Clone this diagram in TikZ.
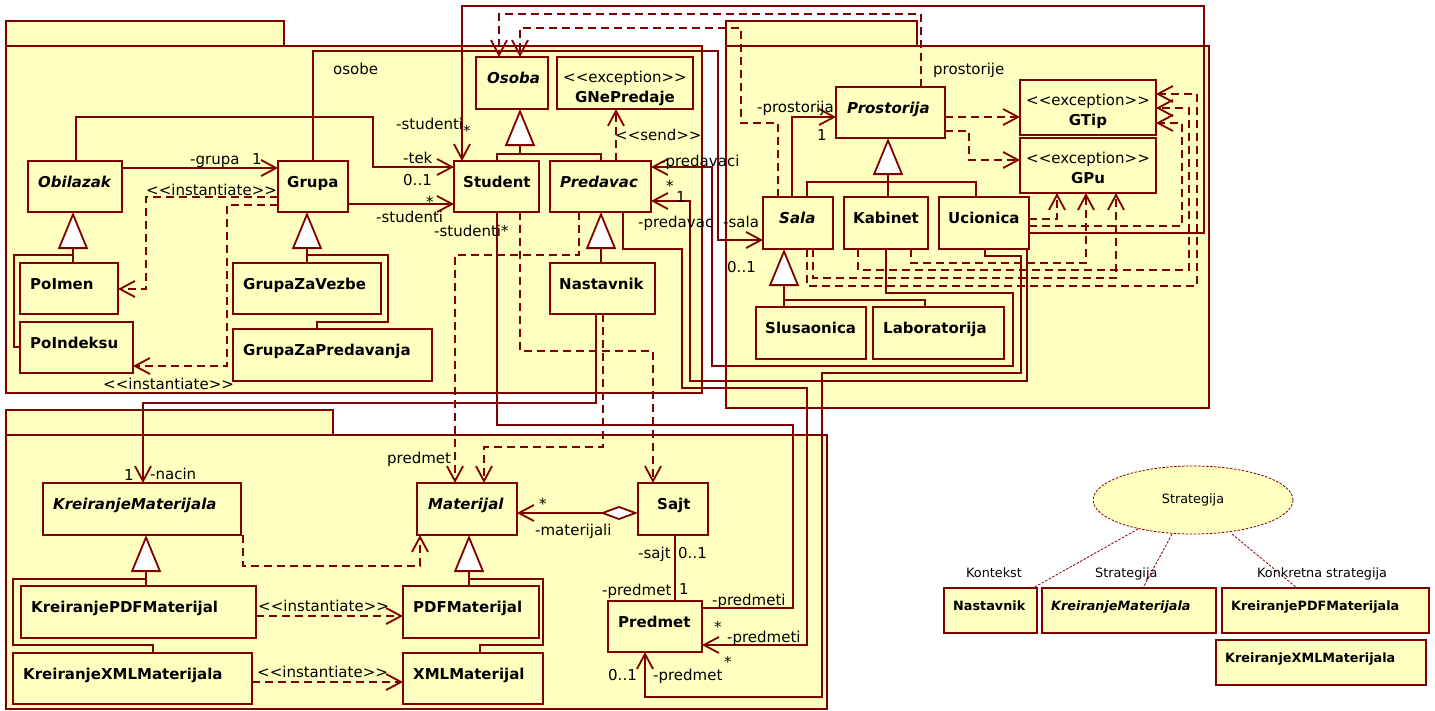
\documentclass[tikz,border=0pt]{standalone}
\usepackage{fontspec}
\setmainfont{DejaVu Sans}[Ligatures=TeXOff]
\usetikzlibrary{arrows.meta,shapes.geometric,calc}
\definecolor{dred}{RGB}{128,0,0}
\definecolor{uyel}{RGB}{255,255,192}
\tikzset{
  pkg/.style={draw=dred, fill=uyel, line width=1.6pt},
  clsbox/.style={draw=dred, fill=uyel, line width=1.8pt, inner sep=0pt, outer sep=0pt},
  sbox/.style={draw=dred, fill=uyel, line width=1.2pt, inner sep=0pt, outer sep=0pt},
  lab/.style={anchor=base west, inner sep=0pt},
  slab/.style={anchor=base west, inner sep=0pt, font=\fontsize{12.8}{15}\selectfont},
  assoc/.style={draw=dred, line width=1.8pt},
  nav/.style={assoc, -{Straight Barb[length=15pt,width=16pt]}},
  gen/.style={assoc, -{Triangle[length=37pt,width=30pt,fill=white]}},
  dep/.style={assoc, dash pattern=on 8pt off 5pt, -{Straight Barb[length=15pt,width=16pt]}},
  agg/.style={assoc, {Diamond[length=38pt,width=14pt,fill=white]}-{Straight Barb[length=15pt,width=16pt]}},
  sline/.style={draw=dred, line width=0.8pt, dash pattern=on 2.5pt off 1.5pt},
}
\newcommand\umlcls[7]{%
  \pgfmathsetmacro\umlw{#4-#2}\pgfmathsetmacro\umlh{#5-#3}%
  \node[clsbox, minimum width=\umlw pt, minimum height=\umlh pt] (#1) at ({(#2+#4)/2},{(#3+#5)/2}) {};
  \node[lab] (#1-t) at ({#2+#6},{#3+26}) {#7};
}
\newcommand\umlexc[6]{%
  \pgfmathsetmacro\umlw{#4-#2}\pgfmathsetmacro\umlh{#5-#3}%
  \node[clsbox, minimum width=\umlw pt, minimum height=\umlh pt] (#1) at ({(#2+#4)/2},{(#3+#5)/2}) {};
  \node[anchor=base, inner sep=0pt] (#1-s) at ({(#2+#4)/2},{#3+25}) {<<exception>>};
  \node[anchor=base, inner sep=0pt] (#1-t) at ({(#2+#4)/2},{#3+45}) {\textbf{#6}};
}
\newcommand\umlsbox[6]{%
  \pgfmathsetmacro\umlw{#4-#2}\pgfmathsetmacro\umlh{#5-#3}%
  \node[sbox, minimum width=\umlw pt, minimum height=\umlh pt] (#1) at ({(#2+#4)/2},{(#3+#5)/2}) {};
  \node[slab] (#1-t) at ({#2+9},{#3+22}) {#6};
}
\begin{document}
\begin{tikzpicture}[x=1pt,y=-1pt,font=\fontsize{15}{18}\selectfont]
\useasboundingbox (0,0) rectangle (1435,710);
% packages
\draw[pkg] (6,21) rectangle (284,46);
\draw[pkg] (6,46) rectangle (702,393);
\draw[pkg] (726,21) rectangle (917,46);
\draw[pkg] (726,46) rectangle (1209,408);
\draw[pkg] (6,410) rectangle (333,435);
\draw[pkg] (6,435) rectangle (827,709);
\node[lab] (posobe) at (333,74) {osobe};
\node[lab] (pprost) at (933,74) {prostorije};

% classes - osobe
\umlcls{Osoba}{476}{57}{548}{109}{11}{\textbf{\textit{Osoba}}}
\umlexc{GNePredaje}{557}{57}{693}{109}{GNePredaje}
\umlcls{Obilazak}{28}{161}{122}{212}{10}{\textbf{\textit{Obilazak}}}
\umlcls{Grupa}{278}{161}{348}{212}{9}{\textbf{Grupa}}
\umlcls{Student}{454}{161}{539}{212}{9}{\textbf{Student}}
\umlcls{Predavac}{550}{161}{651}{212}{10}{\textbf{\textit{Predavac}}}
\umlcls{PoImen}{20}{263}{118}{314}{10}{\textbf{PoImen}}
\umlcls{PoIndeksu}{20}{322}{133}{373}{10}{\textbf{PoIndeksu}}
\umlcls{GrupaZaVezbe}{233}{263}{381}{314}{10}{\textbf{GrupaZaVezbe}}
\umlcls{GrupaZaPredavanja}{233}{329}{432}{381}{10}{\textbf{GrupaZaPredavanja}}
\umlcls{Nastavnik}{550}{263}{655}{314}{9}{\textbf{Nastavnik}}
% classes - prostorije
\umlcls{Prostorija}{836}{87}{945}{138}{11}{\textbf{\textit{Prostorija}}}
\umlexc{GTip}{1020}{80}{1156}{135}{GTip}
\umlexc{GPu}{1020}{138}{1156}{193}{GPu}
\umlcls{Sala}{763}{197}{833}{249}{16}{\textbf{\textit{Sala}}}
\umlcls{Kabinet}{844}{197}{928}{249}{9}{\textbf{Kabinet}}
\umlcls{Ucionica}{939}{197}{1029}{249}{9}{\textbf{Ucionica}}
\umlcls{Slusaonica}{756}{307}{866}{359}{9}{\textbf{Slusaonica}}
\umlcls{Laboratorija}{873}{307}{1004}{359}{10}{\textbf{Laboratorija}}
% classes - materials
\umlcls{KM}{43}{483}{241}{535}{10}{\textbf{\textit{KreiranjeMaterijala}}}
\umlcls{Materijal}{417}{483}{517}{535}{11}{\textbf{\textit{Materijal}}}
\umlcls{Sajt}{638}{483}{708}{535}{19}{\textbf{Sajt}}
\umlcls{KPDF}{21}{586}{256}{638}{10}{\textbf{KreiranjePDFMaterijal}}
\umlcls{KXML}{13}{653}{252}{704}{10}{\textbf{KreiranjeXMLMaterijala}}
\umlcls{PDFM}{403}{586}{539}{638}{10}{\textbf{PDFMaterijal}}
\umlcls{XMLM}{403}{653}{543}{704}{10}{\textbf{XMLMaterijal}}
\umlcls{Predmet}{608}{601}{702}{652}{10}{\textbf{Predmet}}

% generalizations
\draw[gen] ([xshift=53pt]PoImen.north west) -- ([xshift=45pt]Obilazak.south west);
\draw[assoc] ([yshift=-25pt]PoIndeksu.north west) -| (14,255) -- (73,255);
\draw[gen] ([xshift=74pt]GrupaZaVezbe.north west) -- ([xshift=29pt]Grupa.south west);
\draw[assoc] ([xshift=84pt]GrupaZaPredavanja.north west) |- (388,322) |- (307,255);
\draw[assoc] ([xshift=43pt]Student.north west) |- (601,154) -- ([xshift=51pt]Predavac.north west);
\draw[gen] (520,154) -- ([xshift=44pt]Osoba.south west);
\draw[gen] ([xshift=51pt]Nastavnik.north west) -- ([xshift=51pt]Predavac.south west);
\draw[assoc] ([xshift=44pt]Sala.north west) |- (976,182) -- ([xshift=37pt]Ucionica.north west);
\draw[gen] ([xshift=44pt]Kabinet.north west) -- ([xshift=52pt]Prostorija.south west);
\draw[gen] ([xshift=28pt]Slusaonica.north west) -- ([xshift=21pt]Sala.south west);
\draw[assoc] ([xshift=52pt]Laboratorija.north west) |- (784,300);
\draw[gen] ([xshift=125pt]KPDF.north west) -- ([xshift=103pt]KM.south west);
\draw[assoc] ([xshift=140pt]KXML.north west) |- (13,645) |- (146,579);
\draw[gen] ([xshift=66pt]PDFM.north west) -- ([xshift=52pt]Materijal.south west);
\draw[assoc] ([xshift=77pt]XMLM.north west) |- (543,645) |- (469,579);

% associations
\draw[nav] ([yshift=-7pt]Obilazak.north east) -- ([yshift=-7pt]Grupa.north west);
\draw[nav] ([xshift=48pt]Obilazak.north west) |- (373,117) |- ([yshift=-6pt]Student.north west);
\draw[nav] ([yshift=-43pt]Grupa.north east) -- ([yshift=-43pt]Student.north west);
\draw[nav] ([yshift=16pt]Ucionica.south east) -| (1204,6) -| ([xshift=8pt]Student.north west);
\draw[nav] ([xshift=35pt]Grupa.north west) |- (718,51) |- ([yshift=9pt]Sala.south west);
\draw[nav] ([xshift=29pt]Sala.north west) |- ([yshift=-30pt]Prostorija.north west);
\draw[nav] ([xshift=42pt]Kabinet.south west) |- (1013,293) |- (712,366) |- ([yshift=-6pt]Predavac.north east);
\draw[nav] ([xshift=-2pt]Ucionica.south east) |- (690,381) |- ([yshift=11pt]Predavac.south east);
\draw[nav] ([xshift=-28pt]Predavac.south east) |- (682,249) |- (807,388) |- ([yshift=7pt]Predmet.south east);
\draw[assoc] ([xshift=43pt]Student.south west) |- (793,425) |- ([yshift=-7pt]Predmet.north east);
\draw[nav] ([xshift=-44pt]Ucionica.south east) |- (1021,256) |- (822,373) |- (645,697) -- ([xshift=37pt]Predmet.south west);
\draw[nav] ([xshift=46pt]Nastavnik.south west) |- (143,403) -- ([xshift=100pt]KM.north west);
\draw[agg] ([yshift=-30pt]Sajt.north west) -- ([yshift=-30pt]Materijal.north east);
\draw[assoc] ([xshift=37pt]Sajt.south west) -- ([xshift=67pt]Predmet.north west);

% dependencies
\draw[dep] ([xshift=85pt]Prostorija.north west) |- (499,14) -- ([xshift=23pt]Osoba.north west);
\draw[dep] ([xshift=15pt]Sala.north west) |- (741,123) |- (520,28) -- ([xshift=44pt]Osoba.north west);
\draw[dep] ([yshift=-30pt]Prostorija.north east) -- ([yshift=-37pt]GTip.north west);
\draw[dep] ([yshift=7pt]Prostorija.south east) -| (969,160) -- ([yshift=-22pt]GPu.north west);
\draw[dep] ([yshift=30pt]Ucionica.south east) -| ([xshift=37pt]GPu.south west);
\draw[dep] ([xshift=67pt]Kabinet.south west) |- (1086,263) -- ([xshift=66pt]GPu.south west);
\draw[dep] ([xshift=50pt]Sala.south west) |- (1116,278) -- ([xshift=96pt]GPu.south west);
\draw[dep] ([xshift=44pt]Sala.south west) |- (1197,286) |- ([yshift=-14pt]GTip.north east);
\draw[dep] ([xshift=14pt]Kabinet.south west) |- (1189,270) |- ([yshift=-28pt]GTip.north east);
\draw[dep] ([yshift=23pt]Ucionica.south east) -| (1182,123) -- ([yshift=12pt]GTip.south east);
\draw[dep] ([xshift=66pt]Predavac.north west) -- ([xshift=59pt]GNePredaje.south west);
\draw[dep] ([yshift=-36pt]Grupa.north west) -| (146,289) -- ([yshift=-26pt]PoImen.north east);
\draw[dep] ([yshift=-44pt]Grupa.north west) -| (227,366) -- ([yshift=7pt]PoIndeksu.south east);
\draw[dep] ([xshift=53pt]Nastavnik.south west) |- (484,447) -- ([xshift=67pt]Materijal.north west);
\draw[dep] ([xshift=66pt]Student.south west) |- (653,351) -- ([xshift=15pt]Sajt.north west);
\draw[dep] ([xshift=29pt]Predavac.south west) |- (455,255) -- ([xshift=38pt]Materijal.north west);
\draw[dep] ([xshift=2pt]KM.south east) |- (420,566) -- ([xshift=3pt]Materijal.south west);
\draw[dep] ([yshift=-30pt]KPDF.north east) -- ([yshift=-30pt]PDFM.north west);
\draw[dep] ([yshift=-29pt]KXML.north east) -- ([yshift=-29pt]XMLM.north west);

% labels
\node[lab] (l1) at (190,164) {-grupa};
\node[lab] (l2) at (252,164) {1};
\node[lab] (l3) at (396,129) {-studenti};
\node[lab] (l4) at (463,136) {*};
\node[lab] (l5) at (403,163) {-tek};
\node[lab] (l6) at (403,185) {0..1};
\node[lab] (l7) at (426,207) {*};
\node[lab] (l8) at (376,222) {-studenti};
\node[lab] (l9) at (434,236) {-studenti*};
\node[lab] (l10) at (146,195) {<<instantiate>>};
\node[lab] (l11) at (103,389) {<<instantiate>>};
\node[lab] (l12) at (615,140) {<<send>>};
\node[lab] (l13) at (660,166) {-predavaci};
\node[lab] (l14) at (666,191) {*};
\node[lab] (l15) at (676,202) {1};
\node[lab] (l16) at (638,227) {-predavac};
\node[lab] (l17) at (723,227) {-sala};
\node[lab] (l18) at (727,272) {0..1};
\node[lab] (l19) at (757,112) {-prostorija};
\node[lab] (l20) at (817,140) {1};
\node[lab] (l21) at (124,480) {1};
\node[lab] (l22) at (150,479) {-nacin};
\node[lab] (l23) at (387,463) {predmet};
\node[lab] (l24) at (258,611) {<<instantiate>>};
\node[lab] (l25) at (257,677) {<<instantiate>>};
\node[lab] (l26) at (539,509) {*};
\node[lab] (l27) at (535,535) {-materijali};
\node[lab] (l28) at (638,558) {-sajt};
\node[lab] (l29) at (678,558) {0..1};
\node[lab] (l30) at (602,595) {-predmet};
\node[lab] (l31) at (679,594) {1};
\node[lab] (l32) at (712,605) {-predmeti};
\node[lab] (l33) at (714,632) {*};
\node[lab] (l34) at (727,642) {-predmeti};
\node[lab] (l35) at (724,667) {*};
\node[lab] (l36) at (608,680) {0..1};
\node[lab] (l37) at (653,680) {-predmet};

% strategy pattern
\node[ellipse, draw=dred, fill=uyel, line width=0.8pt, dash pattern=on 2.5pt off 1.5pt,
      minimum width=200pt, minimum height=68pt, inner sep=0pt,
      font=\fontsize{12.8}{15}\selectfont] (Strat) at (1193,500) {Strategija};
\umlsbox{SNast}{944}{588}{1037}{633}{\textbf{Nastavnik}}
\umlsbox{SKM}{1042}{588}{1216}{633}{\textbf{\textit{KreiranjeMaterijala}}}
\umlsbox{SKPDF}{1222}{588}{1429}{633}{\textbf{KreiranjePDFMaterijala}}
\umlsbox{SKXML}{1216}{640}{1426}{685}{\textbf{KreiranjeXMLMaterijala}}
\node[slab] (s1) at (966,577) {Kontekst};
\node[slab] (s2) at (1095,577) {Strategija};
\node[slab] (s3) at (1257,577) {Konkretna strategija};
\draw[sline] ($(Strat.center)+(-55,29)$) -- ([xshift=-4pt]SNast.north east);
\draw[sline] ($(Strat.center)+(-21,34)$) -- ([xshift=101pt]SKM.north west);
\draw[sline] ($(Strat.center)+(39,34)$) -- ([xshift=75pt]SKPDF.north west);
\end{tikzpicture}
\end{document}
